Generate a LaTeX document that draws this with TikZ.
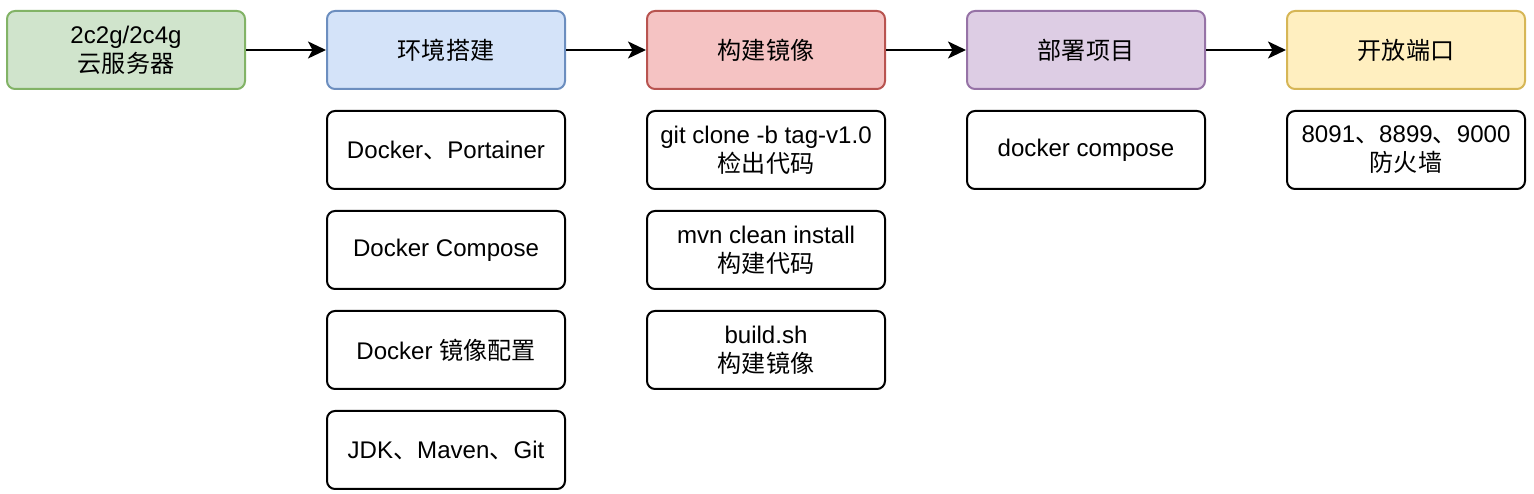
\documentclass[tikz,border=0pt]{standalone}
\usepackage{fontspec}
\setmainfont{Liberation Sans}
\newfontfamily\cjk{Noto Sans CJK SC}
\newcommand{\zh}[1]{{\cjk #1}}
\usepackage{tikz}
\usetikzlibrary{positioning, arrows.meta}

\definecolor{srvfill}{HTML}{D0E4CC}
\definecolor{srvline}{HTML}{82B366}
\definecolor{envfill}{HTML}{D4E3F9}
\definecolor{envline}{HTML}{6C8EBF}
\definecolor{imgfill}{HTML}{F5C3C3}
\definecolor{imgline}{HTML}{B85450}
\definecolor{depfill}{HTML}{DDCDE4}
\definecolor{depline}{HTML}{9673A6}
\definecolor{portfill}{HTML}{FFEFC0}
\definecolor{portline}{HTML}{D6B656}

\begin{document}
\begin{tikzpicture}[
      node distance=0.4cm,
      >={Stealth[length=0.36cm, width=0.34cm, inset=0.09cm]},
      stage/.style={
        rectangle, draw, rounded corners=0.16cm, align=center,
        minimum width=4.76cm, minimum height=1.56cm, line width=0.04cm,
        font=\fontsize{13.7pt}{16.5pt}\selectfont,
      },
      task/.style={
        stage, fill=white, draw=black,
      },
      flow/.style={->, line width=0.04cm},
    ]
      \useasboundingbox (0,0) rectangle (30.68,9.88);

      % stages
      \node[stage, fill=srvfill, draw=srvline] (srv) at (2.52,8.88) {2c2g/2c4g\\\zh{云服务器}};
      \node[stage, fill=envfill, draw=envline, right=1.6cm of srv] (env) {\zh{环境搭建}};
      \node[stage, fill=imgfill, draw=imgline, right=1.6cm of env] (img) {\zh{构建镜像}};
      \node[stage, fill=depfill, draw=depline, right=1.6cm of img] (dep) {\zh{部署项目}};
      \node[stage, fill=portfill, draw=portline, right=1.6cm of dep] (port) {\zh{开放端口}};

      % arrows
      \draw[flow] (srv) -- (env);
      \draw[flow] (env) -- (img);
      \draw[flow] (img) -- (dep);
      \draw[flow] (dep) -- (port);

      % tasks under each stage
      \node[task, below=of env] (docker) {Docker\zh{、}Portainer};
      \node[task, below=of docker] (compose) {Docker Compose};
      \node[task, below=of compose] (mirror) {Docker \zh{镜像配置}};
      \node[task, below=of mirror] (jdk) {JDK\zh{、}Maven\zh{、}Git};

      \node[task, below=of img] (clone) {git clone -b tag-v1.0\\\zh{检出代码}};
      \node[task, below=of clone] (mvn) {mvn clean install\\\zh{构建代码}};
      \node[task, below=of mvn] (build) {build.sh\\\zh{构建镜像}};

      \node[task, below=of dep] (up) {docker compose};

      \node[task, below=of port] (fw) {8091\zh{、}8899\zh{、}9000\\\zh{防火墙}};
    \end{tikzpicture}
\end{document}
